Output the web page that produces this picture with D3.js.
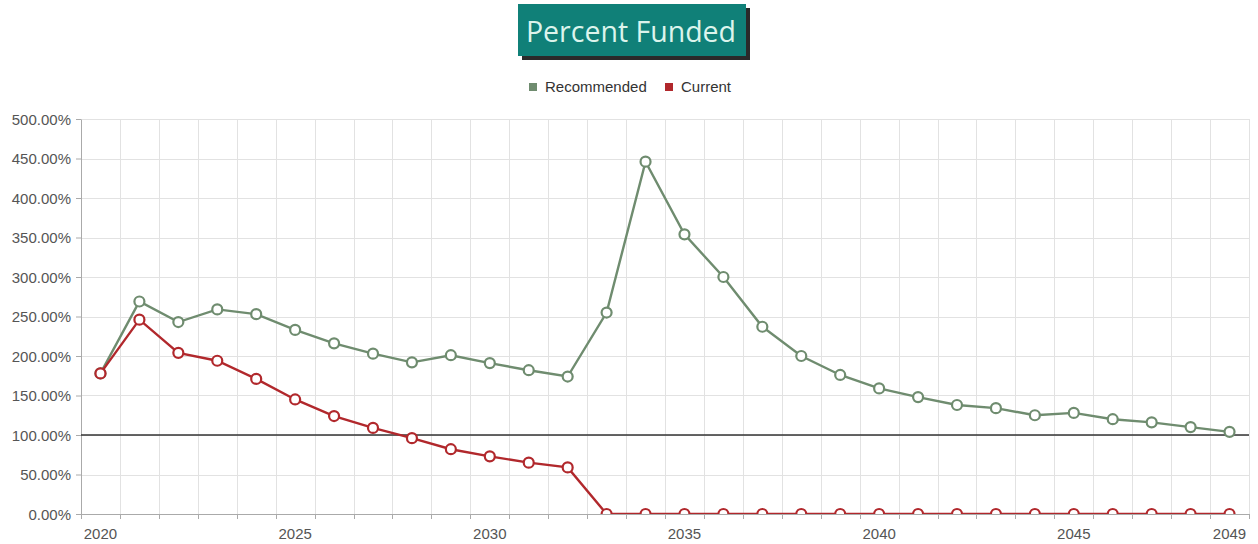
<!DOCTYPE html>
<html>
<head>
<meta charset="utf-8">
<script src="https://cdn.jsdelivr.net/npm/d3@7/dist/d3.min.js"></script>
<style>
  html, body { margin: 0; padding: 0; background: #ffffff; }
  svg { display: block; }
</style>
</head>
<body>
<svg id="chart" width="1258" height="544"></svg>
<script>
// Funding ratio by year (percent)
const years = d3.range(2020, 2050);
const recommended = [178, 269, 243, 259, 253, 233, 216, 203, 192, 201,
                     191, 182, 174, 255, 446, 354, 300, 237, 200, 176,
                     159, 148, 138, 134, 125, 128, 120, 116, 110, 104];
const current = [178, 246, 204, 194, 171, 145, 124, 109, 96, 82,
                 73, 65, 59, 0, 0, 0, 0, 0, 0, 0,
                 0, 0, 0, 0, 0, 0, 0, 0, 0, 0];
const yTicks = [0, 50, 100, 150, 200, 250, 300, 350, 400, 450, 500];
const xLabelYears = [2020, 2025, 2030, 2035, 2040, 2045, 2049];
const seriesNames = ["Recommended", "Current"];
const seriesColors = ["#6f8c6f", "#b1282c"];
const target = 100;

const svg = d3.select("#chart");
const plotLeft = 81, plotRight = 1249, plotTop = 119, plotBottom = 514;

const x = d3.scaleBand().domain(years).range([plotLeft, plotRight]).padding(0);
const y = d3.scaleLinear().domain([0, 500]).range([plotBottom, plotTop]);
const cx = d => x(d) + x.bandwidth() / 2;
const edgeX = i => (i < years.length ? x(years[i]) : plotRight);

// Title badge
const title = svg.append("g");
title.append("rect").attr("x", 522).attr("y", 8).attr("width", 228).attr("height", 52)
  .attr("fill", "#2a2a2a");
title.append("rect").attr("x", 518).attr("y", 4).attr("width", 228).attr("height", 52)
  .attr("fill", "#108078");
title.append("text").attr("x", 631).attr("y", 42).attr("text-anchor", "middle")
  .attr("font-family", "'Open Sans', sans-serif").attr("font-size", 28.5)
  .attr("fill", "#dcf4ec").text("Percent Funded");

// Legend
const legend = svg.append("g").attr("font-family", "'Liberation Sans', Arial, sans-serif")
  .attr("font-size", 15).attr("fill", "#333");
const legendX = [529, 665];
seriesNames.forEach((name, i) => {
  legend.append("rect").attr("x", legendX[i]).attr("y", 83).attr("width", 8).attr("height", 8)
    .attr("fill", seriesColors[i]);
  legend.append("text").attr("x", legendX[i] + 16).attr("y", 92).text(name);
});

// Grid
const grid = svg.append("g").attr("stroke", "#e2e2e2").attr("stroke-width", 1);
yTicks.forEach(t => {
  grid.append("line").attr("x1", plotLeft).attr("x2", plotRight)
    .attr("y1", Math.round(y(t)) + 0.5).attr("y2", Math.round(y(t)) + 0.5);
});
d3.range(years.length + 1).forEach(i => {
  const xp = Math.round(edgeX(i)) + 0.5;
  grid.append("line").attr("x1", xp).attr("x2", xp).attr("y1", plotTop).attr("y2", plotBottom);
});

// Axes
const yAxis = d3.axisLeft(y).tickValues(yTicks).tickSize(5).tickSizeOuter(0)
  .tickFormat(d => d.toFixed(2) + "%");
const gy = svg.append("g").attr("transform", `translate(${plotLeft},0)`).call(yAxis);
gy.selectAll("text").attr("font-family", "'Liberation Sans', Arial, sans-serif")
  .attr("font-size", 15).attr("fill", "#555").attr("x", -10).attr("dy", "0.35em");
gy.selectAll("line").attr("stroke", "#aaa");
gy.select(".domain").attr("stroke", "#aaa");

const xAxis = d3.axisBottom(x).tickValues(xLabelYears).tickSize(0).tickSizeOuter(0);
const gx = svg.append("g").attr("transform", `translate(0,${plotBottom})`).call(xAxis);
gx.select(".domain").attr("stroke", "#aaa");
gx.selectAll("text").attr("font-family", "'Liberation Sans', Arial, sans-serif")
  .attr("font-size", 15).attr("fill", "#555").attr("y", 14);
// Tick marks at band edges
const edgeTicks = svg.append("g").attr("stroke", "#aaa");
d3.range(years.length + 1).forEach(i => {
  const xp = Math.round(edgeX(i)) + 0.5;
  edgeTicks.append("line").attr("x1", xp).attr("x2", xp).attr("y1", plotBottom).attr("y2", plotBottom + 5);
});

// 100% reference line
svg.append("line").attr("x1", plotLeft).attr("x2", plotRight)
  .attr("y1", y(target)).attr("y2", y(target))
  .attr("stroke", "#333").attr("stroke-width", 1.6);

// Series
svg.append("clipPath").attr("id", "plot-clip").append("rect")
  .attr("x", plotLeft - 10).attr("y", plotTop - 10)
  .attr("width", plotRight - plotLeft + 20).attr("height", plotBottom - plotTop + 10);
const plot = svg.append("g").attr("clip-path", "url(#plot-clip)");
const line = d3.line().x(d => cx(d.year)).y(d => y(d.value));
[recommended, current].forEach((vals, i) => {
  const data = years.map((yr, j) => ({ year: yr, value: vals[j] }));
  plot.append("path").datum(data).attr("d", line).attr("fill", "none")
    .attr("stroke", seriesColors[i]).attr("stroke-width", 2.4);
  plot.selectAll(null).data(data).enter().append("circle")
    .attr("cx", d => cx(d.year)).attr("cy", d => y(d.value)).attr("r", 5)
    .attr("fill", "#fff").attr("stroke", seriesColors[i]).attr("stroke-width", 2.2);
});
</script>
</body>
</html>
